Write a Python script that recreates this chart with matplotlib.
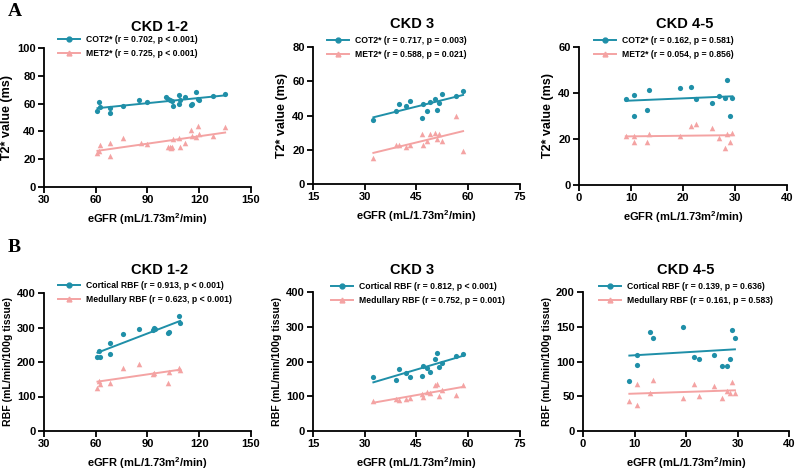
import numpy as np
import matplotlib.pyplot as plt
import matplotlib as mpl

mpl.rcParams['font.family'] = ['Liberation Sans', 'DejaVu Sans']
mpl.rcParams['font.weight'] = 'bold'
mpl.rcParams['mathtext.fontset'] = 'custom'
mpl.rcParams['mathtext.bf'] = 'Liberation Sans:bold'

TEAL = '#1f8fa8'
PINK = '#f4a3a3'

# --- A: T2* value ---
# CKD 1-2
a1_cot_x = [61, 62, 62.5, 68, 68.5, 76, 85, 90, 101, 102, 103, 104, 105, 108, 108.5, 109, 112, 115, 116, 118, 119, 120, 128, 135]
a1_cot_y = [54.5, 61, 57.5, 53, 57, 58.5, 62.5, 61, 65, 63.5, 62.5, 62, 58, 59.5, 66.5, 62.5, 64.5, 59, 59.5, 68.5, 63.5, 62.5, 65.5, 67]
a1_met_x = [61, 62, 62.5, 68, 68.5, 76, 86, 90, 102, 103, 103.5, 104, 105, 108, 109, 112, 115, 116, 118, 119, 120, 128, 135]
a1_met_y = [24.5, 26, 30.5, 32, 22, 35, 31.5, 31, 28.5, 29, 28, 28.5, 34.5, 35.5, 29, 32, 41, 36.5, 36, 44, 38, 36.5, 43.5]
# CKD 3
a2_x = [32.5, 39, 40, 42, 43, 46.5, 47, 48, 49, 50.5, 51, 51.5, 52.5, 56.5, 58.5]
a2_cot_y = [37.5, 42.5, 46.5, 45.5, 48.5, 38.5, 46.5, 42.5, 48, 49.5, 43, 47.5, 52.5, 51.5, 54.5]
a2_met_y = [15, 22.5, 23, 21.5, 22.5, 29, 23, 25, 29, 30, 26.5, 29, 25, 39.5, 19.5]
# CKD 4-5
a3_x = [9, 10.5, 10.5, 13, 13.5, 19.5, 21.5, 22.5, 25.5, 27, 28, 28.5, 29, 29.5]
a3_cot_y = [37.5, 30, 39, 32.5, 41.5, 42, 42.5, 37.5, 35.5, 38.5, 38, 45.5, 30, 38]
a3_met_y = [21.5, 21.5, 18.5, 18.5, 22, 21.5, 25.5, 26.5, 25, 20.5, 16, 22, 18.5, 22.5]

# --- B: RBF ---
b1_x = [61, 62, 62.5, 68, 68.5, 76, 85, 93, 94, 94.5, 102, 102.5, 108.5, 109]
b1_cor_y = [215, 232, 215, 254, 224, 280, 295, 292, 298, 296, 283, 287, 332, 314]
b1_med_x = [61, 62, 62.5, 68, 76, 85, 93, 94, 102, 102.5, 108.5, 109]
b1_med_y = [125, 146, 135, 140, 182, 195, 166, 168, 138, 172, 183, 178]
b2_x = [32.5, 39, 40, 42, 43, 46.5, 47, 48, 49, 50.5, 51, 51.5, 52.5, 56.5, 58.5]
b2_cor_y = [155, 148, 177, 168, 155, 157, 188, 180, 171, 208, 224, 184, 196, 215, 221]
b2_med_y = [86, 93, 90, 92, 96, 107, 98, 112, 109, 133, 134, 102, 117, 105, 133]
b3_x = [9, 10.5, 10.5, 13, 13.5, 19.5, 21.5, 22.5, 25.5, 27, 28, 28.5, 29, 29.5]
b3_cor_y = [72, 95, 109, 143, 134, 150, 106, 103, 109, 93, 94, 103, 145, 134]
b3_med_y = [43, 68, 38, 55, 73, 47, 67, 50, 65, 48, 57, 54, 70, 54]

panels = [
    dict(box=(44, 48, 251, 187), title='CKD 1-2', tx=160, ty=27,
         xlim=(30, 150), xt=[30, 60, 90, 120, 150], ylim=(0, 100), yt=[0, 20, 40, 60, 80, 100],
         ylabel='T2* value (ms)', ysz=9, s1=(a1_cot_x, a1_cot_y), s2=(a1_met_x, a1_met_y),
         labels=['COT2* (r = 0.702, p < 0.001)', 'MET2* (r = 0.725, p < 0.001)'], leg=(58, 35)),
    dict(box=(313, 47, 520, 184), title='CKD 3', tx=412, ty=24,
         xlim=(15, 75), xt=[15, 30, 45, 60, 75], ylim=(0, 80), yt=[0, 20, 40, 60, 80],
         ylabel='T2* value (ms)', ysz=9, s1=(a2_x, a2_cot_y), s2=(a2_x, a2_met_y),
         labels=['COT2* (r = 0.717, p = 0.003)', 'MET2* (r = 0.588, p = 0.021)'], leg=(327, 36)),
    dict(box=(579, 47, 787, 185), title='CKD 4-5', tx=685, ty=24,
         xlim=(0, 40), xt=[0, 10, 20, 30, 40], ylim=(0, 60), yt=[0, 20, 40, 60],
         ylabel='T2* value (ms)', ysz=9, s1=(a3_x, a3_cot_y), s2=(a3_x, a3_met_y),
         labels=['COT2* (r = 0.162, p = 0.581)', 'MET2* (r = 0.054, p = 0.856)'], leg=(594, 36)),
    dict(box=(44, 293, 251, 431), title='CKD 1-2', tx=160, ty=270,
         xlim=(30, 150), xt=[30, 60, 90, 120, 150], ylim=(0, 400), yt=[0, 100, 200, 300, 400],
         ylabel='RBF (mL/min/100g tissue)', ysz=7.6, s1=(b1_x, b1_cor_y), s2=(b1_med_x, b1_med_y),
         labels=['Cortical RBF (r = 0.913, p < 0.001)', 'Medullary RBF (r = 0.623, p < 0.001)'], leg=(58, 281)),
    dict(box=(313, 292, 520, 431), title='CKD 3', tx=412, ty=270,
         xlim=(15, 75), xt=[15, 30, 45, 60, 75], ylim=(0, 400), yt=[0, 100, 200, 300, 400],
         ylabel='RBF (mL/min/100g tissue)', ysz=7.6, s1=(b2_x, b2_cor_y), s2=(b2_x, b2_med_y),
         labels=['Cortical RBF (r = 0.812, p < 0.001)', 'Medullary RBF (r = 0.752, p = 0.001)'], leg=(331, 282)),
    dict(box=(583, 292, 789, 431), title='CKD 4-5', tx=686, ty=270,
         xlim=(0, 40), xt=[0, 10, 20, 30, 40], ylim=(0, 200), yt=[0, 50, 100, 150, 200],
         ylabel='RBF (mL/min/100g tissue)', ysz=7.6, s1=(b3_x, b3_cor_y), s2=(b3_x, b3_med_y),
         labels=['Cortical RBF (r = 0.139, p = 0.636)', 'Medullary RBF (r = 0.161, p = 0.583)'], leg=(599, 282)),
]

W, H = 800, 470
fig = plt.figure(figsize=(8, 4.7), dpi=100)

for p in panels:
    l, t, r, b = p['box']
    ax = fig.add_axes([l / W, 1 - b / H, (r - l) / W, (b - t) / H])
    (x1, y1), (x2, y2) = p['s1'], p['s2']
    ax.scatter(x1, y1, s=14, color=TEAL, marker='o', zorder=3, clip_on=False, linewidths=0)
    ax.scatter(x2, y2, s=16, color=PINK, marker='^', zorder=3, clip_on=False, linewidths=0)
    # linear fits
    for xs, ys, c in [(x1, y1, TEAL), (x2, y2, PINK)]:
        k, c0 = np.polyfit(xs, ys, 1)
        xx = np.array([min(xs), max(xs)])
        ax.plot(xx, k * xx + c0, color=c, lw=1.4, zorder=2)
    ax.set_xlim(*p['xlim'])
    ax.set_ylim(*p['ylim'])
    ax.set_xticks(p['xt'])
    ax.set_yticks(p['yt'])
    for s in ['top', 'right']:
        ax.spines[s].set_visible(False)
    for s in ['left', 'bottom']:
        ax.spines[s].set_linewidth(1.3)
    ax.tick_params(width=1.3, length=4, labelsize=8, pad=2)
    for lab in ax.get_xticklabels() + ax.get_yticklabels():
        lab.set_fontweight('bold')
    ax.set_xlabel('eGFR (mL/1.73m$^\\mathbf{2}$/min)', fontsize=8, fontweight='bold', labelpad=4)
    ax.set_ylabel(p['ylabel'], fontsize=p['ysz'], fontweight='bold', labelpad=3)
    fig.text(p['tx'] / W, 1 - p['ty'] / H, p['title'],
             ha='center', va='center', fontsize=10.5, fontweight='bold')
    # legend
    lx, ly = p['leg']
    h1, = ax.plot([], [], color=TEAL, marker='o', ms=3.5, lw=1.4)
    h2, = ax.plot([], [], color=PINK, marker='^', ms=3.5, lw=1.4)
    ax.legend([h1, h2], p['labels'], loc='upper left', bbox_to_anchor=(lx / W, 1 - ly / H),
              bbox_transform=fig.transFigure, frameon=False, handlelength=2.6,
              handletextpad=0.7, labelspacing=0.6, borderaxespad=0, borderpad=0,
              prop={'weight': 'bold', 'size': 6.2})

fig.text(8 / W, 1 - 12 / H, 'A', family='Liberation Serif', fontsize=14, fontweight='bold',
         ha='left', va='center')
fig.text(8 / W, 1 - 248 / H, 'B', family='Liberation Serif', fontsize=14, fontweight='bold',
         ha='left', va='center')

fig.savefig('out.png', dpi=100)
